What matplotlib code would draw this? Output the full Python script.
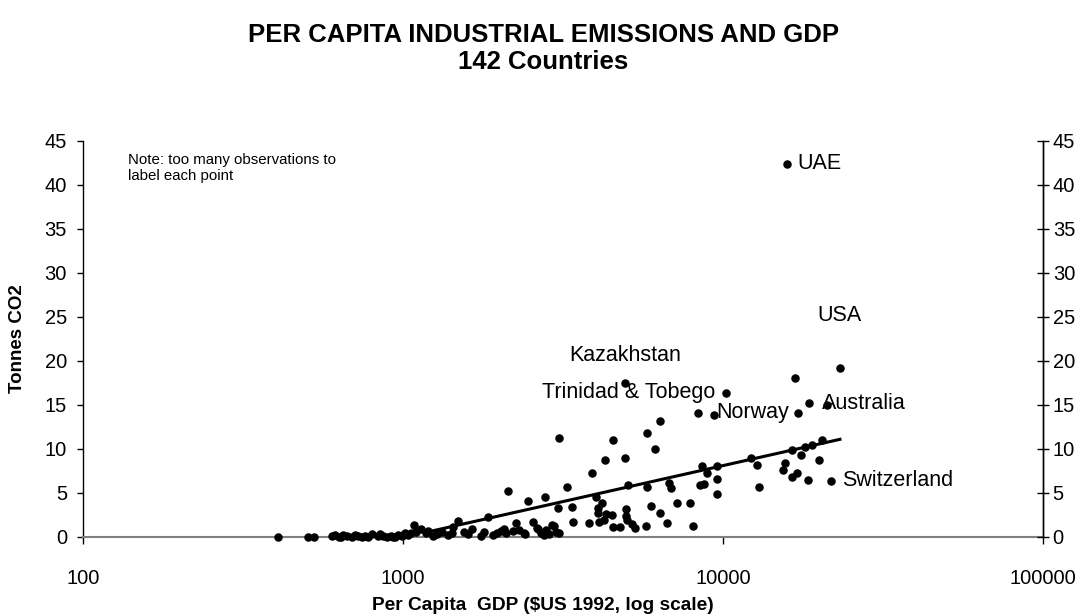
import matplotlib
matplotlib.use('Agg')
import matplotlib.pyplot as plt
from matplotlib.ticker import FixedLocator, FuncFormatter, NullLocator

plt.rcParams['font.family'] = ['Liberation Sans', 'DejaVu Sans']

# Per capita GDP ($US 1992) and industrial CO2 (tonnes per capita)
gdp = [406, 505, 527, 600, 615, 632, 640, 650, 668, 692, 710, 724, 745, 762, 780,
       800, 836, 850, 866, 890, 915, 930, 944, 965, 990, 1000, 1013, 1035, 1060,
       1080, 1100, 1140, 1180, 1200, 1240, 1280, 1320, 1380, 1420, 1430, 1490, 1550,
       1600, 1640, 1750, 1790, 1840, 1910, 1970, 2020, 2070, 2100, 2130, 2200, 2260,
       2300, 2380, 2400, 2460, 2550, 2620, 2650, 2700, 2760, 2780, 2800, 2850, 2920,
       2960, 3000, 3050, 3070, 3070, 3260, 3370, 3400, 3800, 3900, 4000, 4070, 4070,
       4100, 4200, 4250, 4280, 4300, 4500, 4530, 4530, 4760, 4940, 4940, 4960, 4970,
       5000, 5050, 5200, 5300, 5750, 5790, 5790, 5950, 6130, 6360, 6360, 6700, 6790,
       6900, 7200, 7900, 8050, 8350, 8500, 8600, 8700, 8900, 9400, 9600, 9600, 9600,
       10230, 12200, 12800, 13000, 15400, 15600, 15800, 16400, 16400, 16800, 17000,
       17200, 17500, 18100, 18400, 18600, 19000, 19900, 20400, 21200, 21800, 23200]
co2 = [0.0, 0.0, 0.0, 0.1, 0.2, 0.05, 0.0, 0.2, 0.1, 0.0, 0.2, 0.1, 0.0, 0.1, 0.0,
       0.3, 0.15, 0.3, 0.1, 0.0, 0.15, 0.0, 0.0, 0.25, 0.1, 0.2, 0.4, 0.2, 0.5,
       1.35, 0.6, 0.9, 0.4, 0.7, 0.1, 0.3, 0.6, 0.2, 0.45, 1.1, 1.8, 0.6,
       0.3, 0.9, 0.1, 0.6, 2.3, 0.2, 0.45, 0.7, 0.9, 0.5, 5.2, 0.7, 1.6,
       0.8, 0.5, 0.3, 4.1, 1.7, 1.0, 0.9, 0.45, 0.2, 4.5, 0.8, 0.3, 1.4,
       1.25, 0.6, 3.3, 11.25, 0.45, 5.7, 3.4, 1.7, 1.6, 7.3, 4.55, 3.3, 2.7,
       1.7, 3.9, 1.9, 8.75, 2.6, 2.5, 11.0, 1.1, 1.1, 17.5, 8.98, 2.4, 3.2,
       1.9, 5.9, 1.5, 1.0, 1.25, 11.8, 5.7, 3.5, 10.0, 13.2, 2.7, 1.6, 6.1,
       5.6, 3.9, 3.9, 1.25, 14.1, 5.9, 8.07, 6.0, 7.3, 13.9, 8.07, 6.6, 4.9,
       16.4, 9.0, 8.2, 5.7, 7.6, 8.4, 42.4, 6.8, 9.9, 18.1, 7.3,
       14.1, 9.3, 10.2, 6.5, 15.2, 10.5, 8.75, 11.0, 15.0, 6.4, 19.2]

# trend line end points
trend_gdp = [1170, 23200]
trend_co2 = [0.5, 11.1]

# labelled countries: name, gdp, co2
labels = ['UAE', 'USA', 'Kazakhstan', 'Trinidad & Tobego', 'Norway', 'Australia', 'Switzerland']
label_gdp = [15800, 23200, 4940, 10230, 8350, 18600, 21800]
label_co2 = [42.4, 19.2, 17.5, 16.4, 14.1, 15.2, 6.4]

yticks = [0, 5, 10, 15, 20, 25, 30, 35, 40, 45]
xticks = [100, 1000, 10000, 100000]

fig = plt.figure(figsize=(10.87, 6.16), dpi=100)
ax = fig.add_axes([83 / 1087, 1 - 537 / 616, (1043 - 83) / 1087, (537 - 141) / 616])

ax.scatter(gdp, co2, s=26, color='black', zorder=3, clip_on=False)
ax.plot(trend_gdp, trend_co2, color='black', linewidth=2.2, zorder=2)

ax.set_xscale('log')
ax.set_xlim(100, 100000)
ax.set_ylim(0, 45)

ax.xaxis.set_major_locator(FixedLocator(xticks))
ax.xaxis.set_minor_locator(NullLocator())
ax.xaxis.set_major_formatter(FuncFormatter(lambda v, p: f'{int(v)}'))
ax.set_yticks(yticks)

ax.spines['top'].set_visible(False)
ax.spines['bottom'].set_color('#808080')
ax.spines['bottom'].set_linewidth(1.5)
ax.spines['left'].set_linewidth(1.0)
ax.spines['right'].set_linewidth(1.0)

ax.tick_params(axis='x', direction='out', length=5, width=1, labelsize=14.5, pad=18)
ax.tick_params(axis='y', which='major', left=True, right=False, direction='out',
               length=4.5, width=1, labelsize=14.5, pad=7)

# right hand axis mirrors the left one
ax2 = ax.twinx()
ax2.set_ylim(0, 45)
ax2.set_yticks(yticks)
ax2.tick_params(axis='y', direction='inout', length=8, width=1, labelsize=14.5, pad=3)
for s in ['top', 'left', 'bottom']:
    ax2.spines[s].set_visible(False)
ax2.spines['right'].set_linewidth(1.0)

# country labels
offsets = {
    'UAE': ((8, 0), 'left'),
    'USA': ((0, 38), 'center'),
    'Kazakhstan': ((0, 20), 'center'),
    'Trinidad & Tobego': ((-8, 0), 'right'),
    'Norway': ((13, 0), 'left'),
    'Australia': ((9, 0), 'left'),
    'Switzerland': ((8, 0), 'left'),
}
for name, gx, gy in zip(labels, label_gdp, label_co2):
    off, ha = offsets[name]
    ax.annotate(name, (gx, gy), xytext=off, textcoords='offset points',
                ha=ha, va='center', fontsize=15.5)

ax.text(128 / 1087, 1 - 153 / 616, 'Note: too many observations to\nlabel each point',
        transform=fig.transFigure, fontsize=10.8, va='top', ha='left', linespacing=1.15)

fig.text(0.5, 1 - 35 / 616, 'PER CAPITA INDUSTRIAL EMISSIONS AND GDP',
         ha='center', va='center', fontsize=18.5, fontweight='bold')
fig.text(0.5, 1 - 62 / 616, '142 Countries',
         ha='center', va='center', fontsize=18.5, fontweight='bold')
fig.text(543 / 1087, 1 - 605 / 616, 'Per Capita  GDP ($US 1992, log scale)',
         ha='center', va='center', fontsize=13.8, fontweight='bold')
fig.text(18 / 1087, 1 - 339 / 616, 'Tonnes CO2', rotation=90,
         ha='center', va='center', fontsize=13.5, fontweight='bold')

fig.savefig('out.png', dpi=100)
